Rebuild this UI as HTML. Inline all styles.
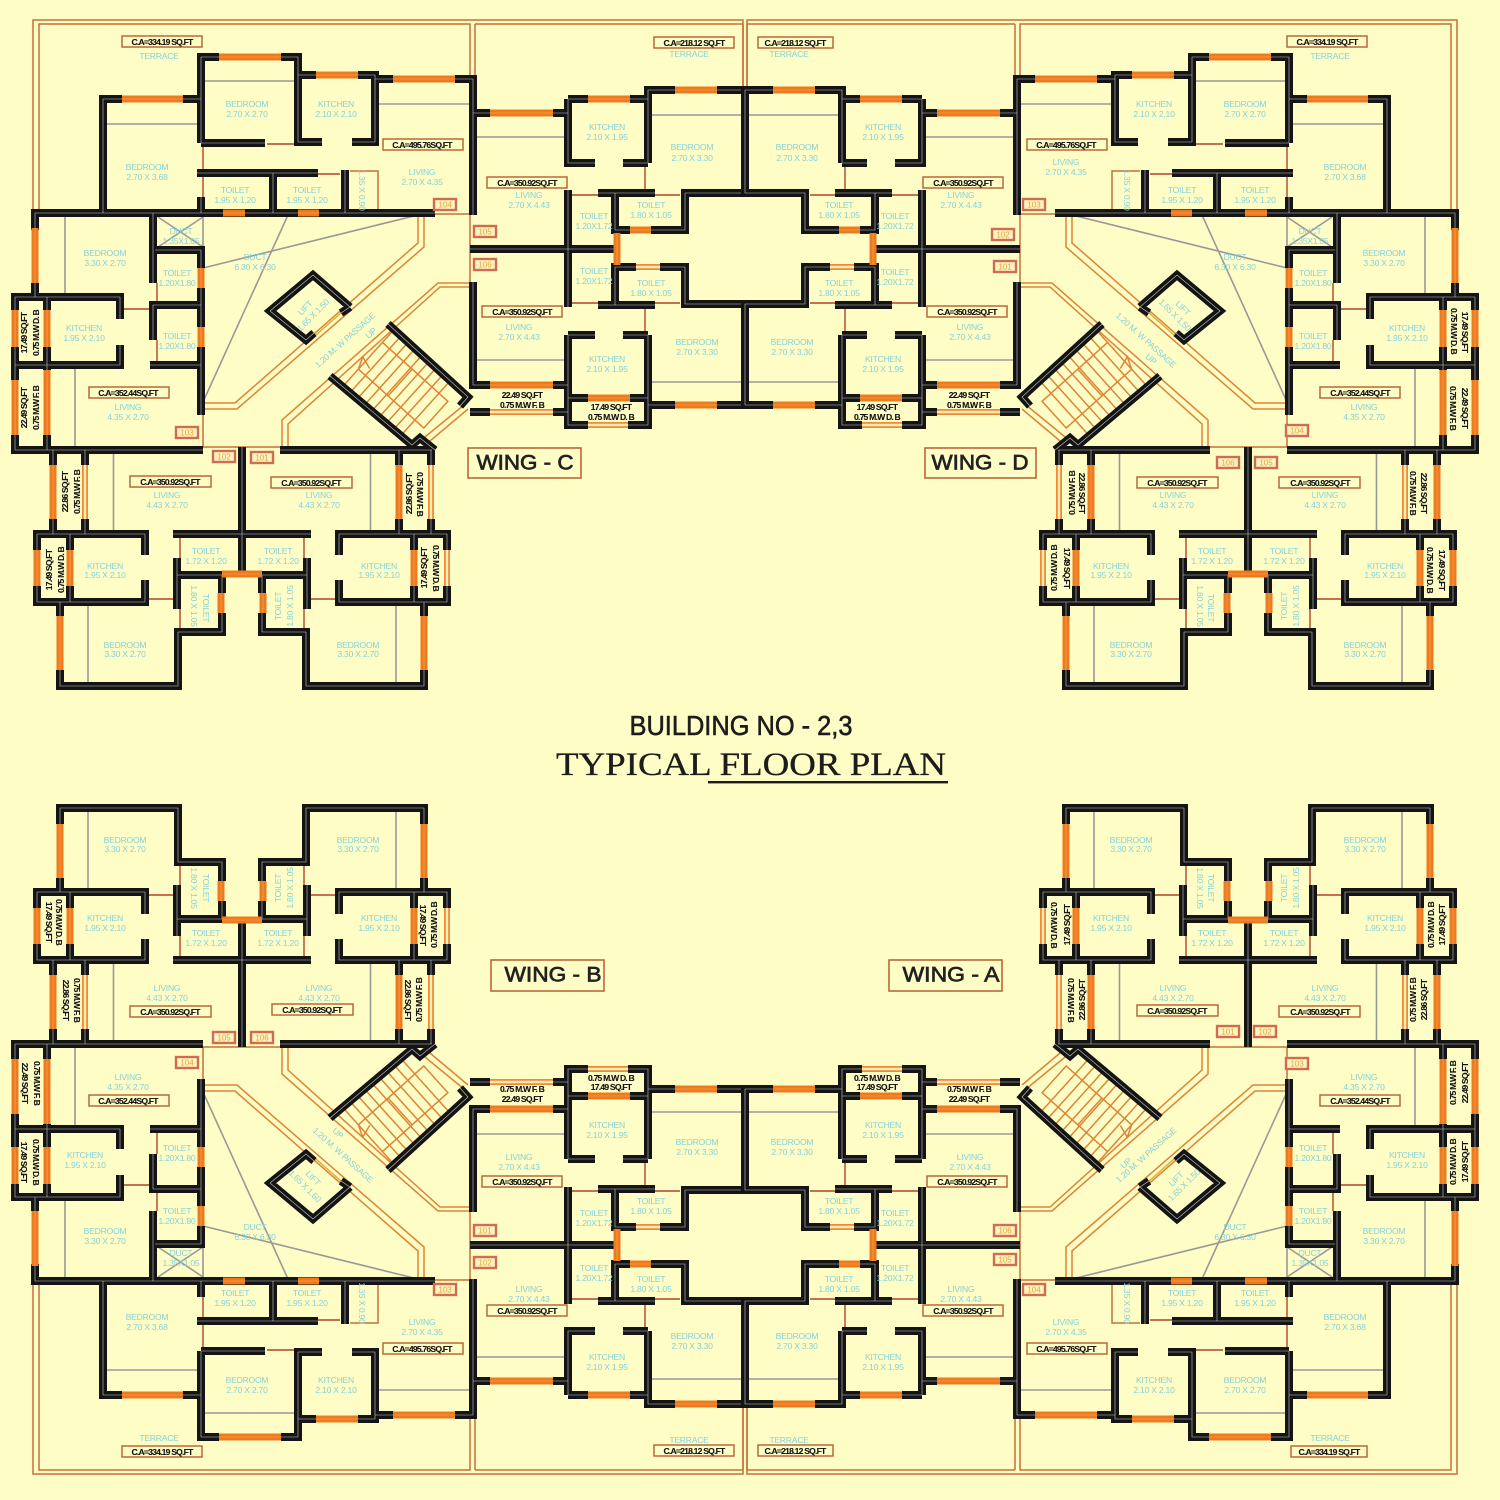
<!DOCTYPE html>
<html><head><meta charset="utf-8"><style>
html,body{margin:0;padding:0;background:#fffdc6}
svg{display:block}
text{font-family:"Liberation Sans",sans-serif;text-anchor:middle;dominant-baseline:central}
.t text{font-size:8.6px;fill:#84d2da;letter-spacing:-.25px}
.b text{font-size:8.6px;fill:#111;font-weight:bold;letter-spacing:-.8px;stroke:#111;stroke-width:.1}
.r text{font-size:8px;fill:#e2a63c}
.bx rect{fill:none;stroke:#b8683a;stroke-width:1.5}
.rb rect{fill:#fff3c0;stroke:#cf6d50;stroke-width:2.4}
.wn rect{fill:none;stroke:#b8683a;stroke-width:1.6}
.wn text{font-size:21px;fill:#222;stroke:#222;stroke-width:.7}
.wb{fill:none;stroke:#141414;stroke-width:8}
.wl{fill:none;stroke:#e8e8e0;stroke-width:.6;stroke-opacity:.85}
.of{fill:none;stroke:#ee7a1e;stroke-width:7}
.ol{fill:none;stroke:#ffa860;stroke-width:.6}
.tf{fill:none;stroke:#ee8a38;stroke-width:6}
.ti{fill:none;stroke:#ffeab0;stroke-width:2.4}
.g{fill:none;stroke:#999;stroke-width:1.6}
.rd{fill:none;stroke:#ad4526;stroke-width:1.4}
.br{fill:none;stroke:#c47038;stroke-width:1.5}
.st{fill:none;stroke:#dd8436;stroke-width:1.5}
</style></head><body>
<svg width="1500" height="1500" viewBox="0 0 1500 1500" xmlns="http://www.w3.org/2000/svg">
<rect width="1500" height="1500" fill="#fffdc6"/>
<defs>
<path id="w" d="M35 230V213H435M103 213V99H122M183 99H201M201 143V57H219M281 57H298V142H322M265 143H201M298 75H316M358 75H375V142H352M375 79H393M455 79H473V215M473 113H490M553 113H568M568 99V163H595M568 99H588M630 99H648M648 163V90H675M648 163H623M717 90H745V193H685V230H651M630 230H615V193M598 193H655M568 190V307M470 249H618M615 305V267H636M660 267H685V304H745V405H717M598 305H655M675 405H648M473 282V385H490M553 385H568M568 335H595M648 335H623M568 335V425H588M628 425H648V335M568 398H588M630 398H648M470 412H490M553 412H568M201 197V213M197 173H318M273 173V213M345 170V213M35 283V297M15 310V297H120V319M47 297V310M47 347V370M15 347V380M15 435V450H203M47 435V450M15 365H120V345M153 213V283M153 340V305H201M150 365H201M155 250H201V268M201 288V327M201 347V415M280 450H432M350 307L313 275L270 311L306 340L314 333M350 307L341 313M388 324L468 397L460 406M330 376L412 445L420 438L435 450M53 450V465M53 519V534M85 450V465M85 519V534M145 555V534H37V550M37 586V602H145V580M70 534V550M70 586V602M60 602V616M60 670V686H178V632H222V613M222 593V575H177M177 558V609M173 534H242M242 447V575M431 450V465M431 519V534M399 450V465M399 519V534M339 555V534H447V550M447 586V602H339V580M414 534V550M414 586V602M424 602V616M424 670V686H306V632H262V613M262 593V575H307M307 558V609M311 534H242"/>
<path id="o" d="M35 228V283M223 213H245M298 213H319M201 268V288M201 327V347M15 310V347M15 380V435M47 310V347M47 370V435M122 99H183M219 57H281M316 75H358M393 79H455M490 113H553M588 99H630M675 90H717M630 230H651M617 233V265M675 405H717M588 398H630M490 385H553M53 465V519M37 550V586M70 550V586M60 616V670M221 593V613M222 574H262M424 616V670M263 593V613M399 465V519M414 550V586"/>
<path id="n" d="M636 267H660M588 425H628M490 412H553M85 465V519M431 465V519M447 550V586"/>
<g id="q">
<path class="br" d="M33 212V20H743V90M39 212V24H470V79M475 24V110M747 24V90M475 24H743M435 214H470V282M203 415V447H280"/>
<path class="st" d="M418 215V243L235 403H203M424 215V247L237 409H203M470 283H438L282 420V447M470 287H440L288 424V447M420 441L464 405M424 446L468 409"/>
<path d="M316 335L342 312" fill="none" stroke="#d8b030" stroke-width="1.5"/>
<g class="st" transform="translate(345 384) rotate(42)">
<path d="M0 0V-70M9.500 0V-70M19 0V-70M28.500 0V-70M38 0V-70M47.500 0V-70M57 0V-70M66.500 0V-70M76 0V-70M0 -20H40M0 -56H40M0 -20L-5 -32L8 -28"/>
<rect x="40" y="-56" width="48" height="36"/>
</g>
<path class="g" d="M106 124H199M204 81H296M378 104H470M475 137H568M648 115H745M475 360H568M650 382H745M65 215V296M75 367V447M203 402L288 215M203 268L418 215M158 217L203 247M158 247L203 217M203 217V247"/>
<path class="rd" d="M203 143V197M267 144H298M318 174H340M157 283V305M157 340V365M120 309H153M645 163V193M645 305V335M572 195H598M655 195H680M572 303H598M655 303H680"/>
<path class="br" d="M350 171H378V210"/>
<g id="h"><path class="g" d="M113.500 450V532M88 604V685M370.500 450V532M396 604V685"/><path class="rd" d="M180 536V558M180 609V632M146 599H175M304 536V558M304 609V632M338 599H309"/></g>
<use href="#w" class="wb"/><use href="#w" class="wl"/>
<use href="#o" class="of"/><use href="#o" class="ol"/>
<use href="#n" class="tf"/><use href="#n" class="ti"/>
</g>
</defs>
<use href="#q"/>
<use href="#q" transform="matrix(-1 0 0 1 1490 0)"/>
<use href="#q" transform="matrix(1 0 0 -1 0 1494)"/>
<use href="#q" transform="matrix(-1 0 0 -1 1490 1494)"/>

<g class="bx">
<rect x="122" y="36" width="80" height="11"/><rect x="383" y="139" width="80" height="11"/><rect x="89" y="387" width="80" height="11"/><rect x="130" y="476" width="81" height="11"/><rect x="271" y="477" width="81" height="11"/><rect x="654" y="37" width="80" height="11"/><rect x="487" y="177" width="80" height="11"/><rect x="482" y="306" width="80" height="11"/>
<rect x="758" y="37" width="75" height="11"/><rect x="1287" y="36" width="80" height="11"/><rect x="1027" y="139" width="80" height="11"/><rect x="923" y="177" width="80" height="11"/><rect x="927" y="306" width="80" height="11"/><rect x="1320" y="387" width="80" height="11"/><rect x="1137" y="477" width="81" height="11"/><rect x="1279" y="477" width="81" height="11"/>
<rect x="130" y="1006" width="81" height="11"/><rect x="272" y="1004" width="81" height="11"/><rect x="89" y="1095" width="80" height="11"/><rect x="383" y="1343" width="80" height="11"/><rect x="122" y="1446" width="80" height="11"/><rect x="482" y="1176" width="80" height="11"/><rect x="487" y="1305" width="80" height="11"/><rect x="654" y="1445" width="80" height="11"/>
<rect x="758" y="1445" width="75" height="11"/><rect x="923" y="1305" width="80" height="11"/><rect x="927" y="1176" width="80" height="11"/><rect x="1027" y="1343" width="80" height="11"/><rect x="1320" y="1095" width="80" height="11"/><rect x="1137" y="1005" width="81" height="11"/><rect x="1279" y="1006" width="81" height="11"/><rect x="1291" y="1446" width="76" height="11"/>
</g>

<g class="b">
<text x="162" y="42">C.A=334.19 SQ.FT</text><text x="422" y="145">C.A=495.76SQ.FT</text><text x="128" y="393">C.A=352.44SQ.FT</text><text x="170" y="482">C.A=350.92SQ.FT</text><text x="311" y="483">C.A=350.92SQ.FT</text><text x="694" y="43">C.A=218.12 SQ.FT</text><text x="527" y="183">C.A=350.92SQ.FT</text><text x="522" y="312">C.A=350.92SQ.FT</text>
<text x="795" y="43">C.A=218.12 SQ.FT</text><text x="1327" y="42">C.A=334.19 SQ.FT</text><text x="1066" y="145">C.A=495.76SQ.FT</text><text x="963" y="183">C.A=350.92SQ.FT</text><text x="967" y="312">C.A=350.92SQ.FT</text><text x="1360" y="393">C.A=352.44SQ.FT</text><text x="1177" y="483">C.A=350.92SQ.FT</text><text x="1320" y="483">C.A=350.92SQ.FT</text>
<text x="170" y="1012">C.A=350.92SQ.FT</text><text x="312" y="1010">C.A=350.92SQ.FT</text><text x="128" y="1101">C.A=352.44SQ.FT</text><text x="422" y="1349">C.A=495.76SQ.FT</text><text x="162" y="1452">C.A=334.19 SQ.FT</text><text x="522" y="1182">C.A=350.92SQ.FT</text><text x="527" y="1311">C.A=350.92SQ.FT</text><text x="694" y="1451">C.A=218.12 SQ.FT</text>
<text x="795" y="1451">C.A=218.12 SQ.FT</text><text x="963" y="1311">C.A=350.92SQ.FT</text><text x="967" y="1182">C.A=350.92SQ.FT</text><text x="1066" y="1349">C.A=495.76SQ.FT</text><text x="1360" y="1101">C.A=352.44SQ.FT</text><text x="1177" y="1011">C.A=350.92SQ.FT</text><text x="1320" y="1012">C.A=350.92SQ.FT</text><text x="1329" y="1452">C.A=334.19 SQ.FT</text>
<text x="522" y="395">22.49 SQ.FT</text><text x="522" y="405">0.75 M.W F. B</text><text x="611" y="407">17.49 SQ.FT</text><text x="611" y="417">0.75 M.W D. B</text>
<text x="969" y="395">22.49 SQ.FT</text><text x="969" y="405">0.75 M.W F. B</text><text x="877" y="407">17.49 SQ.FT</text><text x="877" y="417">0.75 M.W D. B</text>
<text x="522" y="1089">0.75 M.W F. B</text><text x="522" y="1099">22.49 SQ.FT</text><text x="611" y="1078">0.75 M.W D. B</text><text x="611" y="1087">17.49 SQ.FT</text>
<text x="969" y="1089">0.75 M.W F. B</text><text x="969" y="1099">22.49 SQ.FT</text><text x="877" y="1078">0.75 M.W D. B</text><text x="877" y="1087">17.49 SQ.FT</text>
<text x="24" y="333" transform="rotate(-90 24 333)">17.49 SQ.FT</text><text x="36" y="333" transform="rotate(-90 36 333)">0.75 M.W D. B</text><text x="24" y="408" transform="rotate(-90 24 408)">22.49 SQ.FT</text><text x="36" y="408" transform="rotate(-90 36 408)">0.75 M.W F. B</text>
<text x="65" y="492" transform="rotate(-90 65 492)">22.86 SQ.FT</text><text x="77" y="492" transform="rotate(-90 77 492)">0.75 M.W F. B</text><text x="49" y="570" transform="rotate(-90 49 570)">17.49 SQ.FT</text><text x="61" y="570" transform="rotate(-90 61 570)">0.75 M.W D. B</text>
<text x="409" y="494" transform="rotate(-90 409 494)">22.86 SQ.FT</text><text x="420" y="494" transform="rotate(90 420 494)">0.75 M.W F. B</text><text x="424" y="568" transform="rotate(-90 424 568)">17.49 SQ.FT</text><text x="436" y="568" transform="rotate(90 436 568)">0.75 M.W D. B</text>
<text x="1465" y="332" transform="rotate(90 1465 332)">17.49 SQ.FT</text><text x="1454" y="331" transform="rotate(90 1454 331)">0.75 M.W D. B</text><text x="1465" y="408" transform="rotate(90 1465 408)">22.49 SQ.FT</text><text x="1453" y="408" transform="rotate(90 1453 408)">0.75 M.W F. B</text>
<text x="1082" y="493" transform="rotate(90 1082 493)">22.86 SQ.FT</text><text x="1072" y="493" transform="rotate(-90 1072 493)">0.75 M.W F. B</text><text x="1067" y="568" transform="rotate(90 1067 568)">17.49 SQ.FT</text><text x="1054" y="568" transform="rotate(-90 1054 568)">0.75 M.W D. B</text>
<text x="1424" y="493" transform="rotate(90 1424 493)">22.86 SQ.FT</text><text x="1413" y="493" transform="rotate(90 1413 493)">0.75 M.W F. B</text><text x="1442" y="570" transform="rotate(90 1442 570)">17.49 SQ.FT</text><text x="1430" y="570" transform="rotate(90 1430 570)">0.75 M.W D. B</text>
<text x="24" y="1162" transform="rotate(90 24 1162)">17.49 SQ.FT</text><text x="36" y="1162" transform="rotate(90 36 1162)">0.75 M.W D. B</text><text x="25" y="1083" transform="rotate(90 25 1083)">22.49 SQ.FT</text><text x="37" y="1083" transform="rotate(90 37 1083)">0.75 M.W F. B</text>
<text x="66" y="1000" transform="rotate(90 66 1000)">22.86 SQ.FT</text><text x="77" y="1000" transform="rotate(90 77 1000)">0.75 M.W F. B</text><text x="49" y="922" transform="rotate(90 49 922)">17.49 SQ.FT</text><text x="59" y="922" transform="rotate(90 59 922)">0.75 M.W D. B</text>
<text x="408" y="1000" transform="rotate(90 408 1000)">22.86 SQ.FT</text><text x="419" y="1000" transform="rotate(-90 419 1000)">0.75 M.W F. B</text><text x="423" y="925" transform="rotate(90 423 925)">17.49 SQ.FT</text><text x="434" y="925" transform="rotate(-90 434 925)">0.75 M.W D. B</text>
<text x="1465" y="1162" transform="rotate(-90 1465 1162)">17.49 SQ.FT</text><text x="1453" y="1162" transform="rotate(-90 1453 1162)">0.75 M.W D. B</text><text x="1465" y="1083" transform="rotate(-90 1465 1083)">22.49 SQ.FT</text><text x="1453" y="1083" transform="rotate(-90 1453 1083)">0.75 M.W F. B</text>
<text x="1082" y="1000" transform="rotate(-90 1082 1000)">22.86 SQ.FT</text><text x="1071" y="1000" transform="rotate(90 1071 1000)">0.75 M.W F. B</text><text x="1067" y="925" transform="rotate(-90 1067 925)">17.49 SQ.FT</text><text x="1054" y="925" transform="rotate(90 1054 925)">0.75 M.W D. B</text>
<text x="1424" y="1000" transform="rotate(-90 1424 1000)">22.86 SQ.FT</text><text x="1413" y="1000" transform="rotate(-90 1413 1000)">0.75 M.W F. B</text><text x="1442" y="925" transform="rotate(-90 1442 925)">17.49 SQ.FT</text><text x="1431" y="925" transform="rotate(-90 1431 925)">0.75 M.W D. B</text>
</g>

<g class="t">
<text x="159" y="56">TERRACE</text><text x="247" y="104">BEDROOM</text><text x="247" y="114">2.70 X 2.70</text><text x="336" y="104">KITCHEN</text><text x="336" y="114">2.10 X 2.10</text><text x="422" y="172">LIVING</text><text x="422" y="182">2.70 X 4.35</text><text x="147" y="167">BEDROOM</text><text x="147" y="177">2.70 X 3.68</text><text x="235" y="190">TOILET</text><text x="235" y="200">1.95 X 1.20</text><text x="307" y="190">TOILET</text><text x="307" y="200">1.95 X 1.20</text><text x="362" y="190" transform="rotate(90 362 190)">1.35 X 0.90</text><text x="181" y="231">DUCT</text><text x="181" y="241">1.35X1.05</text><text x="255" y="257">DUCT</text><text x="255" y="267">6.30 X 6.30</text><text x="105" y="253">BEDROOM</text><text x="105" y="263">3.30 X 2.70</text><text x="177" y="273">TOILET</text><text x="177" y="283">1.20X1.80</text><text x="177" y="336">TOILET</text><text x="177" y="346">1.20X1.80</text><text x="84" y="328">KITCHEN</text><text x="84" y="338">1.95 X 2.10</text><text x="128" y="407">LIVING</text><text x="128" y="417">4.35 X 2.70</text>
<text x="305" y="308" transform="rotate(-45 305 308)">LIFT</text><text x="313" y="315" transform="rotate(-45 313 315)">1.65 X 1.50</text><text x="345" y="340" transform="rotate(-42 345 340)">1.20 M. W PASSAGE</text><text x="371" y="333" transform="rotate(-42 371 333)">UP</text>
<text x="167" y="495">LIVING</text><text x="167" y="505">4.43 X 2.70</text><text x="319" y="495">LIVING</text><text x="319" y="505">4.43 X 2.70</text><text x="206" y="551">TOILET</text><text x="206" y="561">1.72 X 1.20</text><text x="278" y="551">TOILET</text><text x="278" y="561">1.72 X 1.20</text><text x="105" y="566">KITCHEN</text><text x="105" y="575">1.95 X 2.10</text><text x="379" y="566">KITCHEN</text><text x="379" y="575">1.95 X 2.10</text><text x="125" y="645">BEDROOM</text><text x="125" y="654">3.30 X 2.70</text><text x="358" y="645">BEDROOM</text><text x="358" y="654">3.30 X 2.70</text>
<text x="206" y="608" transform="rotate(90 206 608)">TOILET</text><text x="194" y="606" transform="rotate(90 194 606)">1.80 X 1.05</text><text x="278" y="606" transform="rotate(-90 278 606)">TOILET</text><text x="290" y="606" transform="rotate(-90 290 606)">1.80 X 1.05</text>
<text x="689" y="54">TERRACE</text><text x="607" y="127">KITCHEN</text><text x="607" y="137">2.10 X 1.95</text><text x="692" y="147">BEDROOM</text><text x="692" y="158">2.70 X 3.30</text><text x="529" y="195">LIVING</text><text x="529" y="205">2.70 X 4.43</text><text x="594" y="216">TOILET</text><text x="594" y="226">1.20X1.72</text><text x="594" y="271">TOILET</text><text x="594" y="281">1.20X1.72</text><text x="651" y="205">TOILET</text><text x="651" y="215">1.80 X 1.05</text><text x="651" y="283">TOILET</text><text x="651" y="293">1.80 X 1.05</text><text x="519" y="327">LIVING</text><text x="519" y="337">2.70 X 4.43</text><text x="607" y="359">KITCHEN</text><text x="607" y="369">2.10 X 1.95</text><text x="697" y="342">BEDROOM</text><text x="697" y="352">2.70 X 3.30</text>
<text x="789" y="54">TERRACE</text><text x="883" y="127">KITCHEN</text><text x="883" y="137">2.10 X 1.95</text><text x="797" y="147">BEDROOM</text><text x="797" y="158">2.70 X 3.30</text><text x="961" y="195">LIVING</text><text x="961" y="205">2.70 X 4.43</text><text x="895" y="216">TOILET</text><text x="895" y="226">1.20X1.72</text><text x="895" y="272">TOILET</text><text x="895" y="282">1.20X1.72</text><text x="839" y="205">TOILET</text><text x="839" y="215">1.80 X 1.05</text><text x="839" y="283">TOILET</text><text x="839" y="293">1.80 X 1.05</text><text x="970" y="327">LIVING</text><text x="970" y="337">2.70 X 4.43</text><text x="883" y="359">KITCHEN</text><text x="883" y="369">2.10 X 1.95</text><text x="792" y="342">BEDROOM</text><text x="792" y="352">2.70 X 3.30</text>
<text x="1330" y="56">TERRACE</text><text x="1245" y="104">BEDROOM</text><text x="1245" y="114">2.70 X 2.70</text><text x="1154" y="104">KITCHEN</text><text x="1154" y="114">2.10 X 2.10</text><text x="1066" y="162">LIVING</text><text x="1066" y="172">2.70 X 4.35</text><text x="1345" y="167">BEDROOM</text><text x="1345" y="177">2.70 X 3.68</text><text x="1182" y="190">TOILET</text><text x="1182" y="200">1.95 X 1.20</text><text x="1255" y="190">TOILET</text><text x="1255" y="200">1.95 X 1.20</text><text x="1127" y="190" transform="rotate(90 1127 190)">1.35 X 0.90</text><text x="1310" y="231">DUCT</text><text x="1310" y="241">1.35X1.05</text><text x="1235" y="257">DUCT</text><text x="1235" y="267">6.30 X 6.30</text><text x="1384" y="253">BEDROOM</text><text x="1384" y="263">3.30 X 2.70</text><text x="1313" y="273">TOILET</text><text x="1313" y="283">1.20X1.80</text><text x="1313" y="336">TOILET</text><text x="1313" y="346">1.20X1.80</text><text x="1407" y="328">KITCHEN</text><text x="1407" y="338">1.95 X 2.10</text><text x="1364" y="407">LIVING</text><text x="1364" y="417">4.35 X 2.70</text>
<text x="1183" y="308" transform="rotate(45 1183 308)">LIFT</text><text x="1175" y="315" transform="rotate(45 1175 315)">1.65 X 1.50</text><text x="1146" y="340" transform="rotate(42 1146 340)">1.20 M. W PASSAGE</text><text x="1151" y="359" transform="rotate(42 1151 359)">UP</text>
<text x="1173" y="495">LIVING</text><text x="1173" y="505">4.43 X 2.70</text><text x="1325" y="495">LIVING</text><text x="1325" y="505">4.43 X 2.70</text><text x="1212" y="551">TOILET</text><text x="1212" y="561">1.72 X 1.20</text><text x="1284" y="551">TOILET</text><text x="1284" y="561">1.72 X 1.20</text><text x="1111" y="566">KITCHEN</text><text x="1111" y="575">1.95 X 2.10</text><text x="1385" y="566">KITCHEN</text><text x="1385" y="575">1.95 X 2.10</text><text x="1131" y="645">BEDROOM</text><text x="1131" y="654">3.30 X 2.70</text><text x="1365" y="645">BEDROOM</text><text x="1365" y="654">3.30 X 2.70</text>
<text x="1211" y="608" transform="rotate(90 1211 608)">TOILET</text><text x="1200" y="606" transform="rotate(90 1200 606)">1.80 X 1.05</text><text x="1284" y="606" transform="rotate(-90 1284 606)">TOILET</text><text x="1296" y="606" transform="rotate(-90 1296 606)">1.80 X 1.05</text>
<text x="125" y="840">BEDROOM</text><text x="125" y="849">3.30 X 2.70</text><text x="358" y="840">BEDROOM</text><text x="358" y="849">3.30 X 2.70</text><text x="206" y="888" transform="rotate(90 206 888)">TOILET</text><text x="194" y="888" transform="rotate(90 194 888)">1.80 X 1.05</text><text x="278" y="888" transform="rotate(-90 278 888)">TOILET</text><text x="290" y="888" transform="rotate(-90 290 888)">1.80 X 1.05</text><text x="105" y="918">KITCHEN</text><text x="105" y="928">1.95 X 2.10</text><text x="379" y="918">KITCHEN</text><text x="379" y="928">1.95 X 2.10</text><text x="206" y="933">TOILET</text><text x="206" y="943">1.72 X 1.20</text><text x="278" y="933">TOILET</text><text x="278" y="943">1.72 X 1.20</text><text x="167" y="988">LIVING</text><text x="167" y="998">4.43 X 2.70</text><text x="319" y="988">LIVING</text><text x="319" y="998">4.43 X 2.70</text><text x="128" y="1077">LIVING</text><text x="128" y="1087">4.35 X 2.70</text><text x="85" y="1155">KITCHEN</text><text x="85" y="1165">1.95 X 2.10</text><text x="105" y="1231">BEDROOM</text><text x="105" y="1241">3.30 X 2.70</text><text x="177" y="1148">TOILET</text><text x="177" y="1158">1.20X1.80</text><text x="177" y="1211">TOILET</text><text x="177" y="1221">1.20X1.80</text><text x="181" y="1253">DUCT</text><text x="181" y="1263">1.35X1.05</text><text x="255" y="1227">DUCT</text><text x="255" y="1237">6.30 X 6.30</text><text x="235" y="1293">TOILET</text><text x="235" y="1303">1.95 X 1.20</text><text x="307" y="1293">TOILET</text><text x="307" y="1303">1.95 X 1.20</text><text x="362" y="1303" transform="rotate(90 362 1303)">1.35 X 0.90</text><text x="147" y="1317">BEDROOM</text><text x="147" y="1327">2.70 X 3.68</text><text x="422" y="1322">LIVING</text><text x="422" y="1332">2.70 X 4.35</text><text x="247" y="1380">BEDROOM</text><text x="247" y="1390">2.70 X 2.70</text><text x="336" y="1380">KITCHEN</text><text x="336" y="1390">2.10 X 2.10</text><text x="159" y="1438">TERRACE</text>
<text x="313" y="1178" transform="rotate(45 313 1178)">LIFT</text><text x="305" y="1186" transform="rotate(45 305 1186)">1.65 X 1.50</text><text x="343" y="1155" transform="rotate(42 343 1155)">1.20 M. W PASSAGE</text><text x="338" y="1133" transform="rotate(42 338 1133)">UP</text>
<text x="607" y="1125">KITCHEN</text><text x="607" y="1135">2.10 X 1.95</text><text x="697" y="1142">BEDROOM</text><text x="697" y="1152">2.70 X 3.30</text><text x="519" y="1157">LIVING</text><text x="519" y="1167">2.70 X 4.43</text><text x="651" y="1201">TOILET</text><text x="651" y="1211">1.80 X 1.05</text><text x="651" y="1279">TOILET</text><text x="651" y="1289">1.80 X 1.05</text><text x="594" y="1213">TOILET</text><text x="594" y="1223">1.20X1.72</text><text x="594" y="1268">TOILET</text><text x="594" y="1278">1.20X1.72</text><text x="529" y="1289">LIVING</text><text x="529" y="1299">2.70 X 4.43</text><text x="607" y="1357">KITCHEN</text><text x="607" y="1367">2.10 X 1.95</text><text x="692" y="1336">BEDROOM</text><text x="692" y="1346">2.70 X 3.30</text><text x="689" y="1440">TERRACE</text>
<text x="883" y="1125">KITCHEN</text><text x="883" y="1135">2.10 X 1.95</text><text x="792" y="1142">BEDROOM</text><text x="792" y="1152">2.70 X 3.30</text><text x="970" y="1157">LIVING</text><text x="970" y="1167">2.70 X 4.43</text><text x="839" y="1201">TOILET</text><text x="839" y="1211">1.80 X 1.05</text><text x="839" y="1279">TOILET</text><text x="839" y="1289">1.80 X 1.05</text><text x="895" y="1213">TOILET</text><text x="895" y="1223">1.20X1.72</text><text x="895" y="1268">TOILET</text><text x="895" y="1278">1.20X1.72</text><text x="961" y="1289">LIVING</text><text x="961" y="1299">2.70 X 4.43</text><text x="883" y="1357">KITCHEN</text><text x="883" y="1367">2.10 X 1.95</text><text x="797" y="1336">BEDROOM</text><text x="797" y="1346">2.70 X 3.30</text><text x="789" y="1440">TERRACE</text>
<text x="1131" y="840">BEDROOM</text><text x="1131" y="849">3.30 X 2.70</text><text x="1365" y="840">BEDROOM</text><text x="1365" y="849">3.30 X 2.70</text><text x="1211" y="888" transform="rotate(90 1211 888)">TOILET</text><text x="1200" y="888" transform="rotate(90 1200 888)">1.80 X 1.05</text><text x="1284" y="888" transform="rotate(-90 1284 888)">TOILET</text><text x="1296" y="888" transform="rotate(-90 1296 888)">1.80 X 1.05</text><text x="1111" y="918">KITCHEN</text><text x="1111" y="928">1.95 X 2.10</text><text x="1385" y="918">KITCHEN</text><text x="1385" y="928">1.95 X 2.10</text><text x="1212" y="933">TOILET</text><text x="1212" y="943">1.72 X 1.20</text><text x="1284" y="933">TOILET</text><text x="1284" y="943">1.72 X 1.20</text><text x="1173" y="988">LIVING</text><text x="1173" y="998">4.43 X 2.70</text><text x="1325" y="988">LIVING</text><text x="1325" y="998">4.43 X 2.70</text><text x="1364" y="1077">LIVING</text><text x="1364" y="1087">4.35 X 2.70</text><text x="1407" y="1155">KITCHEN</text><text x="1407" y="1165">1.95 X 2.10</text><text x="1384" y="1231">BEDROOM</text><text x="1384" y="1241">3.30 X 2.70</text><text x="1313" y="1148">TOILET</text><text x="1313" y="1158">1.20X1.80</text><text x="1313" y="1211">TOILET</text><text x="1313" y="1221">1.20X1.80</text><text x="1310" y="1253">DUCT</text><text x="1310" y="1263">1.35X1.05</text><text x="1235" y="1227">DUCT</text><text x="1235" y="1237">6.30 X 6.30</text><text x="1182" y="1293">TOILET</text><text x="1182" y="1303">1.95 X 1.20</text><text x="1255" y="1293">TOILET</text><text x="1255" y="1303">1.95 X 1.20</text><text x="1127" y="1303" transform="rotate(90 1127 1303)">1.35 X 0.90</text><text x="1345" y="1317">BEDROOM</text><text x="1345" y="1327">2.70 X 3.68</text><text x="1066" y="1322">LIVING</text><text x="1066" y="1332">2.70 X 4.35</text><text x="1245" y="1380">BEDROOM</text><text x="1245" y="1390">2.70 X 2.70</text><text x="1154" y="1380">KITCHEN</text><text x="1154" y="1390">2.10 X 2.10</text><text x="1330" y="1438">TERRACE</text>
<text x="1176" y="1179" transform="rotate(-45 1176 1179)">LIFT</text><text x="1184" y="1185" transform="rotate(-45 1184 1185)">1.65 X 1.50</text><text x="1146" y="1155" transform="rotate(-42 1146 1155)">1.20 M. W PASSAGE</text><text x="1126" y="1163" transform="rotate(-42 1126 1163)">UP</text>
</g>

<g class="rb">
<rect x="434" y="199" width="22" height="11"/><rect x="176" y="427" width="22" height="11"/><rect x="213" y="451" width="22" height="11"/><rect x="251" y="452" width="22" height="11"/><rect x="474" y="226" width="22" height="11"/><rect x="474" y="259" width="22" height="11"/>
<rect x="992" y="229" width="22" height="11"/><rect x="994" y="261" width="22" height="11"/><rect x="1023" y="199" width="22" height="11"/><rect x="1286" y="425" width="22" height="11"/><rect x="1217" y="457" width="22" height="11"/><rect x="1255" y="457" width="22" height="11"/>
<rect x="176" y="1057" width="22" height="11"/><rect x="213" y="1032" width="22" height="11"/><rect x="251" y="1032" width="22" height="11"/><rect x="434" y="1284" width="22" height="11"/><rect x="474" y="1225" width="22" height="11"/><rect x="474" y="1257" width="22" height="11"/>
<rect x="994" y="1225" width="22" height="11"/><rect x="994" y="1254" width="22" height="11"/><rect x="1023" y="1284" width="22" height="11"/><rect x="1286" y="1058" width="22" height="11"/><rect x="1217" y="1026" width="22" height="11"/><rect x="1254" y="1026" width="22" height="11"/>
</g>
<g class="r">
<text x="445" y="205">104</text><text x="187" y="433">103</text><text x="224" y="457">102</text><text x="262" y="458">101</text><text x="485" y="232">105</text><text x="485" y="265">106</text>
<text x="1003" y="235">102</text><text x="1005" y="267">101</text><text x="1034" y="205">103</text><text x="1297" y="431">104</text><text x="1228" y="463">106</text><text x="1266" y="463">105</text>
<text x="187" y="1063">104</text><text x="224" y="1038">105</text><text x="262" y="1038">106</text><text x="445" y="1290">103</text><text x="485" y="1231">101</text><text x="485" y="1263">102</text>
<text x="1005" y="1231">106</text><text x="1005" y="1260">105</text><text x="1034" y="1290">104</text><text x="1297" y="1064">103</text><text x="1228" y="1032">101</text><text x="1265" y="1032">102</text>
</g>

<g class="wn">
<rect x="468" y="448" width="113" height="30"/><text x="525" y="463" textLength="97" lengthAdjust="spacingAndGlyphs">WING - C</text>
<rect x="925" y="448" width="111" height="30"/><text x="980" y="463" textLength="97" lengthAdjust="spacingAndGlyphs">WING - D</text>
<rect x="491" y="960" width="113" height="31"/><text x="553" y="975" textLength="97" lengthAdjust="spacingAndGlyphs">WING - B</text>
<rect x="889" y="960" width="113" height="31"/><text x="951" y="975" textLength="97" lengthAdjust="spacingAndGlyphs">WING - A</text>
</g>

<text x="741" y="735" style="dominant-baseline:alphabetic" font-size="28" fill="#1c1c1c" stroke="#1c1c1c" stroke-width=".6" textLength="223" lengthAdjust="spacingAndGlyphs">BUILDING NO - 2,3</text>
<text x="751" y="775" style="dominant-baseline:alphabetic;font-family:'Liberation Serif',serif" font-size="33" fill="#1c1c1c" stroke="#1c1c1c" stroke-width=".3" textLength="390" lengthAdjust="spacingAndGlyphs">TYPICAL FLOOR PLAN</text>
<rect x="708" y="781" width="240" height="2.400" fill="#1c1c1c"/>
</svg>
</body></html>
